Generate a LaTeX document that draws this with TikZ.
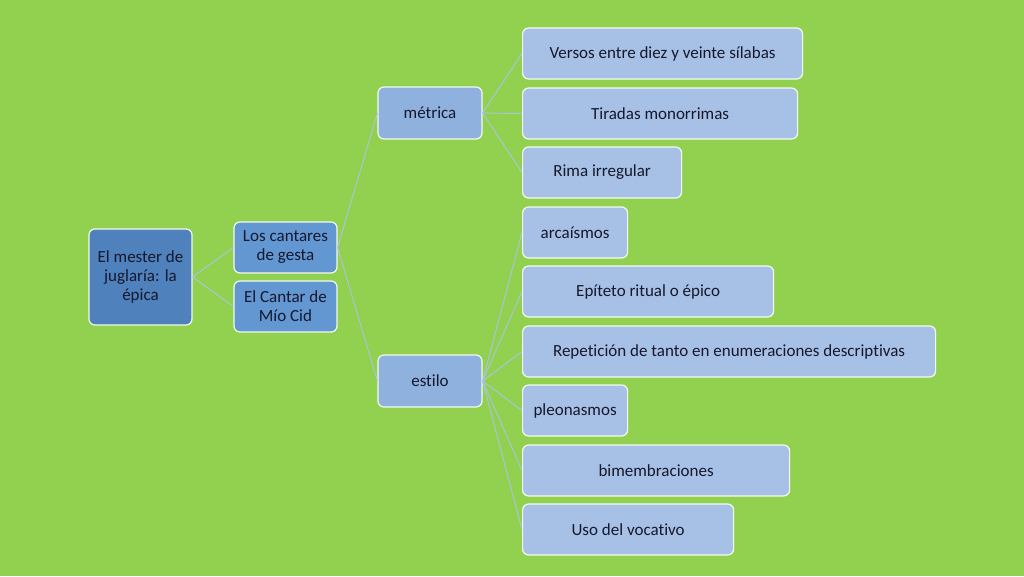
\documentclass[tikz,border=0pt]{standalone}
\usepackage{fontspec}
\setmainfont{Carlito}[Ligatures=NoCommon]
\usepackage{tikz}

\definecolor{bggreen}{RGB}{146,208,80}
\definecolor{rootblue}{RGB}{79,129,189}
\definecolor{midblue}{RGB}{98,151,210}
\definecolor{subblue}{RGB}{143,177,222}
\definecolor{leafblue}{RGB}{167,193,230}
\definecolor{linkblue}{RGB}{170,196,216}
\definecolor{txt}{RGB}{22,24,44}

\begin{document}
\begin{tikzpicture}[x=1pt, y=-1pt, font=\fontsize{17}{19}\selectfont,
		box/.style = {draw=white!90!bggreen, line width=1.2pt, rounded corners=6pt, text=txt, align=center, inner sep=2pt},
		rootbox/.style = {box, fill=rootblue, minimum width=103pt, minimum height=96pt},
		midbox/.style = {box, fill=midblue, minimum width=103pt, minimum height=51pt},
		subbox/.style = {box, fill=subblue, minimum width=104pt, minimum height=52pt},
		leaf/.style = {box, fill=leafblue, anchor=west, minimum height=51pt},
		link/.style = {draw=linkblue, line width=1pt}]
		\useasboundingbox[fill=bggreen] (0,0) rectangle (1024,576);
		
		\node [rootbox] (root) at (140.5,277) {El mester de\\ juglaría: la\\ épica};
		\node [midbox] (cantares) at (285.5,247.5) {Los cantares\\ de gesta};
		\node [midbox] (cid) at (285.5,306.5) {El Cantar de\\ Mío Cid};
		\node [subbox] (metrica) at (430,113) {métrica};
		\node [subbox] (estilo) at (430,381) {estilo};
		
		\node [leaf, minimum width=280pt] (versos) at (522,53.5) {Versos entre diez y veinte sílabas};
		\node [leaf, minimum width=275pt] (tiradas) at (522,113.5) {Tiradas monorrimas};
		\node [leaf, minimum width=159pt] (rima) at (522,172.5) {Rima irregular};
		\node [leaf, minimum width=105pt] (arcaismos) at (522,232.5) {arcaísmos};
		\node [leaf, minimum width=251pt] (epiteto) at (522,291.5) {Epíteto ritual o épico};
		\node [leaf, minimum width=413pt] (repeticion) at (522,351.5) {Repetición de tanto en enumeraciones descriptivas};
		\node [leaf, minimum width=105pt] (pleonasmos) at (522,410.5) {pleonasmos};
		\node [leaf, minimum width=267pt] (bimembr) at (522,470.5) {bimembraciones};
		\node [leaf, minimum width=211pt] (vocativo) at (522,529.5) {Uso del vocativo};
		
		\draw[link]
		(root.east) -- (cantares.west);
		\draw[link]
		(root.east) -- (cid.west);
		\draw[link]
		(cantares.east) -- (metrica.west);
		\draw[link]
		(cantares.east) -- (estilo.west);
		\foreach \n in {versos, tiradas, rima}
		\draw[link] (metrica.east) -- (\n.west);
		\foreach \n in {arcaismos, epiteto, repeticion, pleonasmos, bimembr, vocativo}
		\draw[link] (estilo.east) -- (\n.west);
		
		\end{tikzpicture}
\end{document}
